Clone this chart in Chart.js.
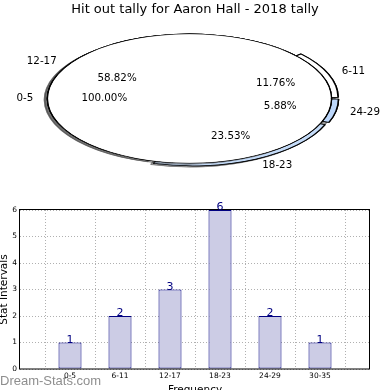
<!DOCTYPE html>
<html>
<head>
<meta charset="utf-8">
<script src="https://cdn.jsdelivr.net/npm/chart.js"></script>
<style>
html,body{margin:0;padding:0;background:#fff;}
#wrap{position:relative;width:390px;height:390px;overflow:hidden;}
canvas{position:absolute;left:0;top:0;}
</style>
</head>
<body>
<div id="wrap">
<canvas id="bar" width="390" height="390"></canvas>
<canvas id="pieLow" width="390" height="200"></canvas>
<canvas id="pieTop" width="390" height="200"></canvas>
</div>
<script>
// ---- data ----
const chartTitle = 'Hit out tally for Aaron Hall - 2018 tally';
const pieLabels = ['6-11', '24-29', '18-23', '12-17'];
const pieValues = [2, 1, 4, 10];
const fullPieLabels = ['0-5'];
const fullPieValues = [1];
const barLabels = ['0-5', '6-11', '12-17', '18-23', '24-29', '30-35'];
const barValues = [1, 2, 3, 6, 2, 1];
const yTicks = [0, 1, 2, 3, 4, 5, 6];
const xAxisTitle = 'Frequency';
const yAxisTitle = 'Stat Intervals';
const watermark = 'Dream-Stats.com';

// ---- layout of the elliptical pie ----
const CX = 189.5, CY = 98.5, RX = 142, RY = 64.5;
const FONT = 'DejaVu Sans';

function sum(a){ return a.reduce((s, v) => s + v, 0); }

function drawArcCopy(arc, ctx, changes) {
  const copy = Object.assign(Object.create(Object.getPrototypeOf(arc)), arc, changes);
  copy.draw(ctx);
}

const ellipsePlugin = {
  id: 'ellipse',
  beforeDatasetsDraw(chart, args, opts) {
    const ctx = chart.ctx;
    const meta = chart.getDatasetMeta(0);
    const a0 = meta.data[0];
    const r = a0.outerRadius;
    const explode = opts.explode || [];
    ctx.save();
    ctx.translate(CX, CY);
    ctx.scale(RX / r, RY / r);
    ctx.translate(-a0.x, -a0.y);
    for (let pass = 0; pass < 2; pass++) {
      if (pass === 0) {
        ctx.shadowColor = 'rgba(77,77,77,0.55)';
        ctx.shadowOffsetX = -3;
        ctx.shadowOffsetY = 1.3;
        ctx.shadowBlur = 0.6;
      } else {
        ctx.shadowColor = 'rgba(0,0,0,0)';
        ctx.shadowOffsetX = 0;
        ctx.shadowOffsetY = 0;
        ctx.shadowBlur = 0;
      }
      meta.data.forEach((arc, i) => {
        const mid = (arc.startAngle + arc.endAngle) / 2;
        const e = (explode[i] || 0) * r;
        ctx.save();
        ctx.translate(Math.cos(mid) * e, Math.sin(mid) * e);
        arc.draw(ctx);
        if (pass === 1 && arc.circumference >= Math.PI * 2 - 1e-6) {
          // hide the radial seam of a 100% slice
          drawArcCopy(arc, ctx, {
            outerRadius: arc.outerRadius - 0.5,
            options: Object.assign({}, arc.options, { borderWidth: 0 })
          });
        }
        ctx.restore();
      });
    }
    ctx.restore();
    return false;
  }
};

function drawPieLabels(ctx, chart, labels, values, explode) {
  const meta = chart.getDatasetMeta(0);
  const total = sum(values);
  ctx.save();
  ctx.fillStyle = '#000';
  ctx.font = '10.3px ' + FONT;
  ctx.textBaseline = 'middle';
  meta.data.forEach((arc, i) => {
    const mid = (arc.startAngle + arc.endAngle) / 2;
    const c = Math.cos(mid), s = Math.sin(mid);
    const e = explode[i] || 0;
    ctx.textAlign = c >= 0 ? 'left' : 'right';
    ctx.fillText(labels[i], CX + RX * (1.1 + e) * c, CY + RY * (1.1 + e) * s);
    ctx.textAlign = 'center';
    ctx.fillText((values[i] / total * 100).toFixed(2) + '%', CX + RX * (0.6 + e) * c, CY + RY * (0.6 + e) * s);
  });
  ctx.restore();
}

const lowExplode = [0.05, 0.05, 0.05, 0];
const pieLow = new Chart(document.getElementById('pieLow'), {
  type: 'pie',
  data: {
    labels: pieLabels,
    datasets: [{
      data: pieValues,
      backgroundColor: ['#ffffff', '#bcd7fb', '#c4dbf8', '#ffffff'],
      borderColor: '#000',
      borderWidth: 0.9
    }]
  },
  options: {
    responsive: false, animation: false, events: [],
    rotation: 90 - 360 * pieValues[0] / sum(pieValues),
    layout: { padding: 20 },
    plugins: { legend: { display: false }, tooltip: { enabled: false }, ellipse: { explode: lowExplode } }
  },
  plugins: [ellipsePlugin]
});

const pieTop = new Chart(document.getElementById('pieTop'), {
  type: 'pie',
  data: {
    labels: fullPieLabels,
    datasets: [{ data: fullPieValues, backgroundColor: ['#ffffff'], borderColor: '#000', borderWidth: 0.9 }]
  },
  options: {
    responsive: false, animation: false, events: [],
    rotation: 90,
    layout: { padding: { left: 20, right: 20, top: 0, bottom: 20 } },
    plugins: {
      legend: { display: false }, tooltip: { enabled: false },
      ellipse: { explode: [0] },
      title: { display: true, text: chartTitle, color: '#000', font: { family: FONT, size: 13, weight: 'normal' }, padding: { top: 2, bottom: 0 } }
    }
  },
  plugins: [ellipsePlugin, {
    id: 'pieText',
    afterDraw(chart) {
      const ctx = chart.ctx;
      drawPieLabels(ctx, pieLow, pieLabels, pieValues, lowExplode);
      drawPieLabels(ctx, chart, fullPieLabels, fullPieValues, [0]);
    }
  }]
});

// ---- bar chart ----
const xLabelsPadded = [''].concat(barLabels, ['']);
const barPadded = [null].concat(barValues, [null]);

const barExtras = {
  id: 'barExtras',
  afterDraw(chart) {
    const ctx = chart.ctx;
    const ca = chart.chartArea;
    ctx.save();
    const l = Math.round(ca.left), t = Math.round(ca.top), r = Math.round(ca.right), b = Math.round(ca.bottom);
    ctx.strokeStyle = '#000';
    ctx.lineWidth = 1;
    ctx.strokeRect(l - 0.5, t - 0.5, r - l, b - t + 0.5);
    const meta = chart.getDatasetMeta(0);
    ctx.fillStyle = '#000080';
    ctx.font = '11px ' + FONT;
    ctx.textAlign = 'center';
    ctx.textBaseline = 'alphabetic';
    meta.data.forEach((el, i) => {
      const v = barPadded[i];
      if (v === null) return;
      ctx.fillText(String(v), el.x, el.y);
    });
    ctx.fillStyle = '#000';
    ctx.font = '10.5px ' + FONT;
    ctx.fillText(xAxisTitle, (ca.left + ca.right) / 2, 393);
    ctx.save();
    ctx.translate(7, (ca.top + ca.bottom) / 2);
    ctx.rotate(-Math.PI / 2);
    ctx.fillText(yAxisTitle, 0, 0);
    ctx.restore();
    ctx.fillStyle = 'rgba(130,130,130,0.9)';
    ctx.font = '13px "Liberation Sans"';
    ctx.textAlign = 'left';
    ctx.fillText(watermark, 0, 385);
    ctx.restore();
  }
};

new Chart(document.getElementById('bar'), {
  type: 'bar',
  data: {
    labels: xLabelsPadded,
    datasets: [{
      data: barPadded,
      backgroundColor: '#ccccE5',
      borderColor: '#000080',
      borderWidth: 1,
      borderSkipped: false,
      barPercentage: 0.46,
      categoryPercentage: 1
    }]
  },
  options: {
    responsive: false, animation: false, events: [],
    layout: { padding: { top: 210, right: 20, left: 0, bottom: 0 } },
    plugins: { legend: { display: false }, tooltip: { enabled: false } },
    scales: {
      x: {
        offset: false,
        grid: { color: '#b0b0b0', lineWidth: 1, drawTicks: false, z: 1 },
        border: { display: false, dash: [1, 2] },
        ticks: { padding: 3, color: '#000', font: { family: FONT, size: 7.5 }, autoSkip: false, maxRotation: 0 },
        afterFit(s) { s.height = 21; }
      },
      y: {
        min: yTicks[0], max: yTicks[yTicks.length - 1],
        afterBuildTicks(s) { s.ticks = yTicks.map(v => ({ value: v })); },
        grid: { color: '#b0b0b0', lineWidth: 1, drawTicks: false },
        border: { display: false, dash: [1, 2] },
        ticks: { padding: 3, color: '#000', font: { family: FONT, size: 7.5 } },
        afterFit(s) { s.width = 20; }
      }
    }
  },
  plugins: [barExtras]
});
</script>
</body>
</html>
